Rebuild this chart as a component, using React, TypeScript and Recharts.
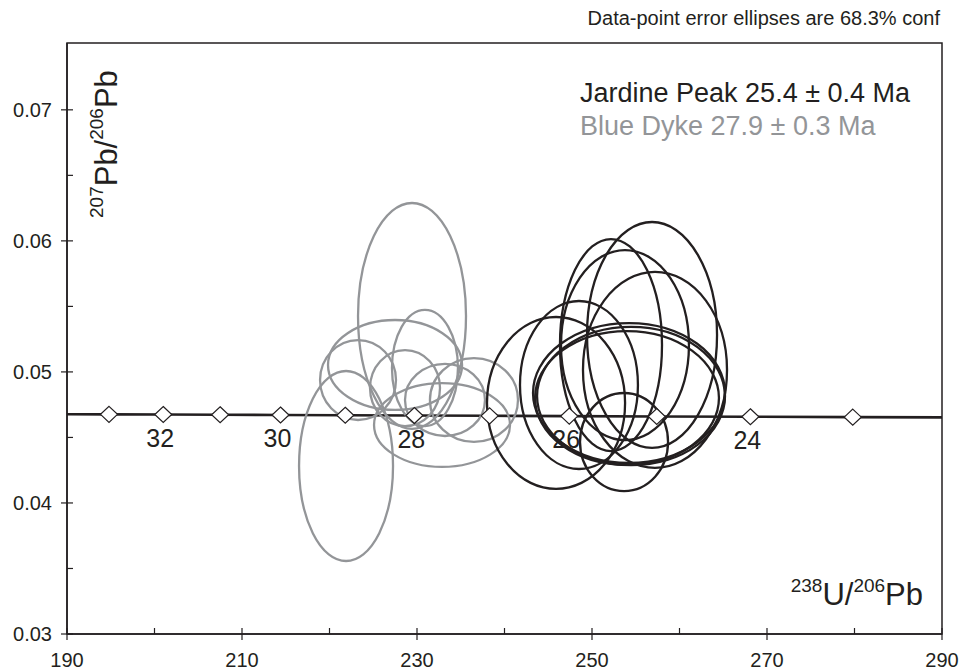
import React from 'react';
import {
  ComposedChart,
  XAxis,
  YAxis,
  Scatter,
  Line,
  ReferenceArea,
  Customized,
} from 'recharts';

// ---------- data ----------
const X_MIN = 190;
const X_MAX = 290;
const Y_MIN = 0.03;
const Y_MAX = 0.0751;

const xTicks = [190, 200, 210, 220, 230, 240, 250, 260, 270, 280, 290];
const xLabeledTicks = [190, 210, 230, 250, 270, 290];
const yTicks = [0.03, 0.035, 0.04, 0.045, 0.05, 0.055, 0.06, 0.065, 0.07];
const yLabeledTicks = [0.03, 0.04, 0.05, 0.06, 0.07];

// concordia curve (238U/206Pb, 207Pb/206Pb)
const concordiaX = [190, 194.8, 201.0, 207.5, 214.4, 221.8, 229.7, 238.3, 247.4, 257.4, 268.1, 279.8, 290];
const concordiaY = [0.04677, 0.04676, 0.04675, 0.04673, 0.04671, 0.04669, 0.04667, 0.04665, 0.04663, 0.0466, 0.04658, 0.04655, 0.04653];

// concordia age markers (Ma)
const markerAges = [33, 32, 31, 30, 29, 28, 27, 26, 25, 24, 23];
const markerX = [194.8, 201.0, 207.5, 214.4, 221.8, 229.7, 238.3, 247.4, 257.4, 268.1, 279.8];
const markerY = [0.04676, 0.04675, 0.04673, 0.04671, 0.04669, 0.04667, 0.04665, 0.04663, 0.0466, 0.04658, 0.04655];
const labeledAges = [32, 30, 28, 26, 24];

// Blue Dyke ellipses: centre and semi-axes (x units, y units)
const blueX = [229.43, 221.89, 223.26, 227.49, 230.91, 228.63, 236.51, 233.2, 232.86];
const blueY = [0.05427, 0.04282, 0.04938, 0.05053, 0.0503, 0.04877, 0.04786, 0.04786, 0.04595];
const blueA = [6.17, 5.37, 4.34, 7.66, 3.77, 4.0, 5.03, 4.57, 7.77];
const blueB = [0.00862, 0.00725, 0.00305, 0.00343, 0.00443, 0.0029, 0.0032, 0.00275, 0.0032];

// Jardine Peak ellipses
const jardineX = [256.86, 252.17, 253.77, 257.2, 248.51, 245.89, 254.23, 254.46, 254.0, 253.66];
const jardineY = [0.05282, 0.05205, 0.05205, 0.05015, 0.049, 0.04763, 0.04839, 0.04816, 0.04801, 0.04465];
const jardineA = [7.43, 5.83, 7.31, 8.23, 6.74, 7.89, 10.97, 10.74, 10.51, 5.03];
const jardineB = [0.00862, 0.00809, 0.00725, 0.00748, 0.00641, 0.00656, 0.00534, 0.00527, 0.00511, 0.00374];

// ---------- layout / style ----------
const CHART_W = 956;
const CHART_H = 662;
const MARGIN = { top: 35, right: 22, bottom: 0, left: 0 };
const Y_AXIS_W = 59;
const X_AXIS_H = 36;
const PLOT_W = CHART_W - MARGIN.left - MARGIN.right - Y_AXIS_W;
const PLOT_H = CHART_H - MARGIN.top - MARGIN.bottom - X_AXIS_H;
const PX_PER_X = PLOT_W / (X_MAX - X_MIN);
const PX_PER_Y = PLOT_H / (Y_MAX - Y_MIN);

const BLACK = '#231f20';
const GRAY = '#939598';
const FONT = 'Arial, "Liberation Sans", Helvetica, sans-serif';

const concordia = concordiaX.map((x, i) => ({ x, y: concordiaY[i] }));
const markers = markerAges.map((age, i) => ({ x: markerX[i], y: markerY[i], age }));
const blue = blueX.map((x, i) => ({ x, y: blueY[i], a: blueA[i], b: blueB[i] }));
const jardine = jardineX.map((x, i) => ({ x, y: jardineY[i], a: jardineA[i], b: jardineB[i] }));

const makeEllipse = (color: string, width: number) => (props: any) => {
  const { cx, cy, payload } = props;
  if (cx == null || cy == null) return <g />;
  return (
    <ellipse
      cx={cx}
      cy={cy}
      rx={payload.a * PX_PER_X}
      ry={payload.b * PX_PER_Y}
      fill="none"
      stroke={color}
      strokeWidth={width}
    />
  );
};
const BlueEllipse = makeEllipse(GRAY, 2.3);
const JardineEllipse = makeEllipse(BLACK, 2.3);

const Diamond = (props: any) => {
  const { cx, cy, payload } = props;
  if (cx == null || cy == null) return <g />;
  const w = 8.5;
  const h = 8;
  return (
    <g>
      <path
        d={`M${cx},${cy - h} L${cx + w},${cy} L${cx},${cy + h} L${cx - w},${cy} Z`}
        fill="#fff"
        stroke={BLACK}
        strokeWidth={1.2}
      />
      {labeledAges.includes(payload.age) && (
        <text x={cx - 3} y={cy + 32} textAnchor="middle" fontSize={25} fill={BLACK} fontFamily={FONT}>
          {payload.age}
        </text>
      )}
    </g>
  );
};

const renderXTick = (props: any) => {
  const x = Number(props.x);
  const y = Number(props.y);
  const v = Number(props.payload.value);
  const major = xLabeledTicks.includes(v);
  return (
    <g key={`xt-${v}`}>
      <line x1={x} x2={x} y1={y - 6} y2={major ? y + 6 : y} stroke={BLACK} strokeWidth={1.2} />
      {major && (
        <text x={x} y={y + 33} textAnchor="middle" fontSize={20} fill={BLACK} fontFamily={FONT}>
          {v}
        </text>
      )}
    </g>
  );
};

const renderYTick = (props: any) => {
  const x = Number(props.x);
  const y = Number(props.y);
  const v = Number(props.payload.value);
  const major = yLabeledTicks.some((t) => Math.abs(t - v) < 1e-9);
  return (
    <g key={`yt-${v}`}>
      <line x1={major ? x - 6 : x} x2={x + 6} y1={y} y2={y} stroke={BLACK} strokeWidth={1.2} />
      {major && (
        <text x={x - 15} y={y + 7} textAnchor="end" fontSize={20} fill={BLACK} fontFamily={FONT}>
          {v.toFixed(2)}
        </text>
      )}
    </g>
  );
};

const Annotations = () => (
  <g fontFamily={FONT}>
    <text x={932} y={17} textAnchor="end" fontSize={20} fill={BLACK}>
      Data-point error ellipses are 68.3% conf
    </text>
    <text x={572} y={94} fontSize={27} fill={BLACK}>
      Jardine Peak 25.4 ± 0.4 Ma
    </text>
    <text x={572} y={127} fontSize={27} fill={GRAY}>
      Blue Dyke 27.9 ± 0.3 Ma
    </text>
    <text transform="rotate(-90)" x={-210} y={109} fill={BLACK}>
      <tspan fontSize={19} dy={-14}>207</tspan>
      <tspan fontSize={31} dy={14}>Pb/</tspan>
      <tspan fontSize={19} dy={-14}>206</tspan>
      <tspan fontSize={31} dy={14}>Pb</tspan>
    </text>
    <text x={915} y={597} textAnchor="end" fill={BLACK}>
      <tspan fontSize={19} dy={-13}>238</tspan>
      <tspan fontSize={31} dy={13}>U/</tspan>
      <tspan fontSize={19} dy={-13}>206</tspan>
      <tspan fontSize={31} dy={13}>Pb</tspan>
    </text>
  </g>
);

export default function App() {
  return (
    <div style={{ position: 'absolute', left: 8, top: 8, width: CHART_W, height: CHART_H, fontFamily: FONT }}>
      <ComposedChart width={CHART_W} height={CHART_H} margin={MARGIN}>
        <XAxis
          type="number"
          dataKey="x"
          domain={[X_MIN, X_MAX]}
          ticks={xTicks}
          interval={0}
          allowDataOverflow
          height={X_AXIS_H}
          tickSize={0}
          tickMargin={0}
          tick={renderXTick}
          axisLine={{ stroke: BLACK, strokeWidth: 1.5 }}
        />
        <YAxis
          type="number"
          dataKey="y"
          domain={[Y_MIN, Y_MAX]}
          ticks={yTicks}
          interval={0}
          allowDataOverflow
          width={Y_AXIS_W}
          tickSize={0}
          tickMargin={0}
          tick={renderYTick}
          axisLine={{ stroke: BLACK, strokeWidth: 1.5 }}
        />
        <ReferenceArea
          x1={X_MIN}
          x2={X_MAX}
          y1={Y_MIN}
          y2={Y_MAX}
          fill="none"
          fillOpacity={0}
          stroke={BLACK}
          strokeWidth={1.5}
        />
        <Scatter data={blue} shape={BlueEllipse} isAnimationActive={false} />
        <Scatter data={jardine} shape={JardineEllipse} isAnimationActive={false} />
        <Line
          data={concordia}
          dataKey="y"
          type="linear"
          dot={false}
          activeDot={false}
          stroke={BLACK}
          strokeWidth={2.6}
          isAnimationActive={false}
        />
        <Scatter data={markers} shape={Diamond} isAnimationActive={false} />
        <Customized component={Annotations} />
      </ComposedChart>
    </div>
  );
}
